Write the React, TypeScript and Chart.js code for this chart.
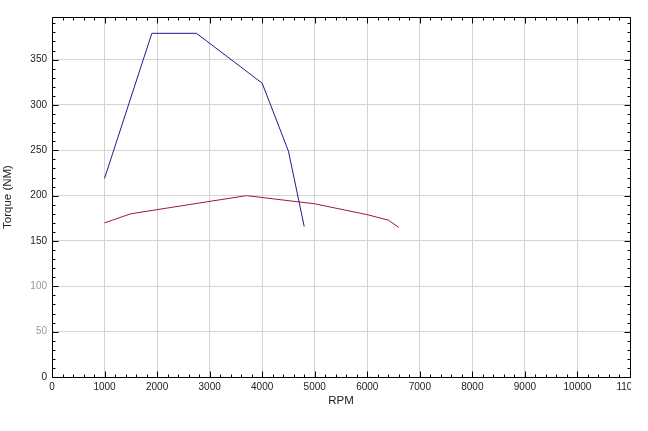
import React, { useEffect, useRef } from "react";
import { Chart, registerables } from "chart.js";

Chart.register(...registerables);

const blueRpm = [1000, 1900, 2750, 4000, 4500, 4800];
const blueTorque = [219, 379, 379, 324, 249, 166];
const redRpm = [1000, 1500, 3700, 5000, 6000, 6400, 6600];
const redTorque = [170, 180, 200, 191, 179, 173, 165];

const xMin = 0;
const xMax = 11000;
const xStep = 1000;
const xMinor = 200;
const yMin = 0;
const yMax = 397;
const yStep = 50;
const yMinor = 10;
const lightLabels = [50, 100];

const framePlugin = {
  id: "frameTicks",
  afterDraw(chart: any) {
    const { ctx, chartArea } = chart;
    const { left, right, top, bottom } = chartArea;
    const xs = chart.scales.x;
    const ys = chart.scales.y;
    ctx.save();
    ctx.strokeStyle = "#000";
    ctx.lineWidth = 1;
    ctx.beginPath();
    const L = Math.round(left) + 0.5;
    const R = Math.round(right) + 0.5;
    const T = Math.round(top) + 0.5;
    const B = Math.round(bottom) + 0.5;
    ctx.rect(L, T, R - L, B - T);
    for (let v = xMin; v <= xMax; v += xMinor) {
      const px = Math.round(xs.getPixelForValue(v)) + 0.5;
      const len = v % xStep === 0 ? 6 : 3;
      ctx.moveTo(px, B);
      ctx.lineTo(px, B - len);
      ctx.moveTo(px, T);
      ctx.lineTo(px, T + len);
    }
    for (let v = yMin; v <= yMax; v += yMinor) {
      const py = Math.round(ys.getPixelForValue(v)) + 0.5;
      const len = v % yStep === 0 ? 6 : 3;
      ctx.moveTo(L, py);
      ctx.lineTo(L + len, py);
      ctx.moveTo(R, py);
      ctx.lineTo(R - len, py);
    }
    ctx.stroke();
    ctx.restore();
  },
};

export default function App() {
  const ref = useRef<HTMLCanvasElement>(null);
  useEffect(() => {
    document.body.style.margin = "0";
    const c = ref.current;
    if (!c) return;
    const chart = new Chart(c, {
      type: "line",
      data: {
        datasets: [
          {
            label: "Torque A",
            data: blueRpm.map((x, i) => ({ x, y: blueTorque[i] })),
            borderColor: "#1c1c8c",
            borderWidth: 1,
            pointRadius: 0,
            fill: false,
            tension: 0,
          },
          {
            label: "Torque B",
            data: redRpm.map((x, i) => ({ x, y: redTorque[i] })),
            borderColor: "#a01830",
            borderWidth: 1,
            pointRadius: 0,
            fill: false,
            tension: 0,
          },
        ],
      },
      options: {
        responsive: false,
        animation: false,
        layout: { padding: { top: 17, right: 1, left: 0, bottom: 0 } },
        plugins: {
          legend: { display: false },
          tooltip: { enabled: false },
        },
        scales: {
          x: {
            type: "linear",
            min: xMin,
            max: xMax,
            border: { display: false },
            grid: { color: "#d4d4d4", drawTicks: false, lineWidth: 1 },
            ticks: {
              stepSize: xStep,
              padding: 4,
              maxRotation: 0,
              autoSkip: false,
              color: "#222",
              callback: (v: any) => String(v),
              font: { family: "Liberation Sans, Arial, sans-serif", size: 10 },
            },
            title: {
              display: true,
              text: "RPM",
              color: "#222",
              padding: { top: 0, bottom: 23 },
              font: { family: "Liberation Sans, Arial, sans-serif", size: 11.5 },
            },
            afterFit(scale: any) {
              scale.height = 54;
              scale.paddingRight = 0;
              scale.paddingLeft = 0;
            },
          },
          y: {
            type: "linear",
            min: yMin,
            max: yMax,
            border: { display: false },
            grid: { color: "#d4d4d4", drawTicks: false, lineWidth: 1 },
            afterBuildTicks(scale: any) {
              scale.ticks = scale.ticks.filter((t: any) => t.value % yStep === 0);
            },
            ticks: {
              stepSize: yStep,
              padding: 5,
              callback: (v: any) => String(v),
              color: (ctx: any) =>
                lightLabels.includes(ctx.tick?.value) ? "#9a9a9a" : "#222",
              font: { family: "Liberation Sans, Arial, sans-serif", size: 10 },
            },
            title: {
              display: true,
              text: "Torque (NM)",
              color: "#222",
              padding: { top: 1, bottom: 0 },
              font: { family: "Liberation Sans, Arial, sans-serif", size: 11.5 },
            },
            afterFit(scale: any) {
              scale.width = 52;
              scale.paddingTop = 0;
              scale.paddingBottom = 0;
            },
          },
        },
      },
      plugins: [framePlugin],
    });
    return () => chart.destroy();
  }, []);
  return (
    <div style={{ width: 648, height: 431, background: "#fff" }}>
      <canvas ref={ref} width={631} height={431} style={{ display: "block" }} />
    </div>
  );
}
